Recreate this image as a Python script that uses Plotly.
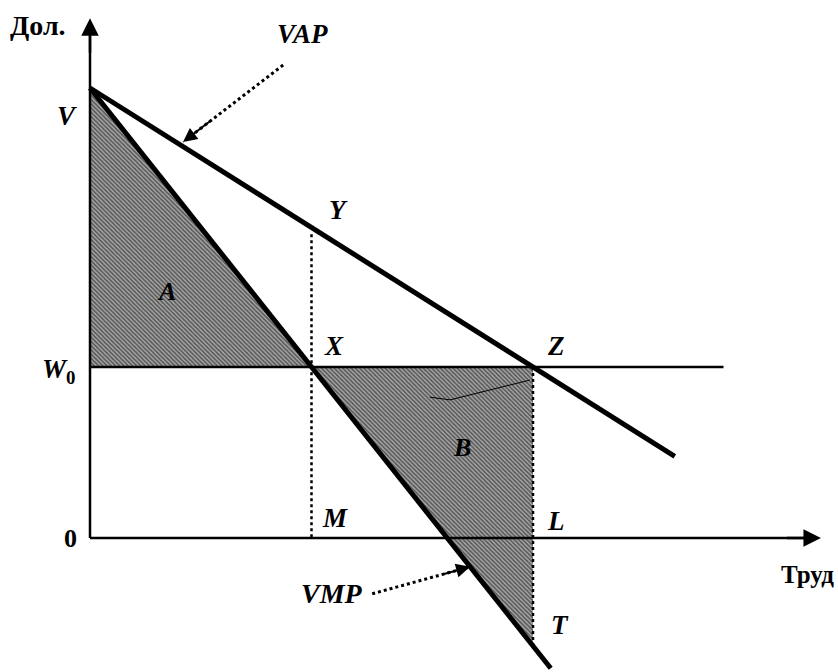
import plotly.graph_objects as go

# key values of the diagram (data units)
v_top = 10.0          # V, intercept of both curves
w0 = 3.8              # wage level W0
labour_m = 5.0        # M
labour_l = 10.0       # L
vmp_slope = 1.24
vap_slope = 0.62

vap_x = [0.0, 13.2]
vap_y = [v_top, v_top - vap_slope * 13.2]
vmp_x = [0.0, 10.4]
vmp_y = [v_top, v_top - vmp_slope * 10.4]
w0_x = [0.0, 14.3]
w0_y = [w0, w0]

y_y = v_top - vap_slope * labour_m
t_y = v_top - vmp_slope * labour_l

area_a_x = [0.0, labour_m, 0.0, 0.0]
area_a_y = [v_top, w0, w0, v_top]
area_b_x = [labour_m, labour_l, labour_l, labour_m]
area_b_y = [w0, w0, t_y, w0]

stroke_x = [7.67, 8.13, 9.93]
stroke_y = [3.13, 3.07, 3.51]

vap_ptr_x = [4.36, 2.10]
vap_ptr_y = [10.51, 8.80]
vmp_ptr_x = [6.37, 8.58]
vmp_ptr_y = [-1.24, -0.64]

x_axis_end = 16.5
y_axis_end = 11.55

fig = go.Figure()

hatch = dict(shape="\\", fgcolor="#000000", bgcolor="#a8a8a8", size=3, solidity=0.5)

# shaded areas A and B
for xs, ys in [(area_a_x, area_a_y), (area_b_x, area_b_y)]:
    fig.add_trace(go.Scatter(x=xs, y=ys, mode="lines", fill="toself",
                             fillcolor="#6e6e6e", fillpattern=hatch,
                             line=dict(width=0), hoverinfo="skip", showlegend=False))

fig.add_trace(go.Scatter(x=stroke_x, y=stroke_y, mode="lines",
                         line=dict(color="black", width=1), showlegend=False))

# dotted verticals
fig.add_trace(go.Scatter(x=[labour_m, labour_m], y=[y_y - 0.15, 0], mode="lines",
                         line=dict(color="black", width=2.5, dash="dot"), showlegend=False))
fig.add_trace(go.Scatter(x=[labour_l, labour_l], y=[w0, t_y], mode="lines",
                         line=dict(color="black", width=2.5, dash="dot"), showlegend=False))

# axes
fig.add_trace(go.Scatter(x=[0, x_axis_end - 0.3], y=[0, 0], mode="lines",
                         line=dict(color="black", width=2.5), showlegend=False))
fig.add_trace(go.Scatter(x=[0, 0], y=[0, y_axis_end - 0.3], mode="lines",
                         line=dict(color="black", width=2.5), showlegend=False))

# W0 line
fig.add_trace(go.Scatter(x=w0_x, y=w0_y, mode="lines",
                         line=dict(color="black", width=2.5), showlegend=False))

# VAP and VMP
fig.add_trace(go.Scatter(x=vap_x, y=vap_y, mode="lines",
                         line=dict(color="black", width=5), name="VAP", showlegend=False))
fig.add_trace(go.Scatter(x=vmp_x, y=vmp_y, mode="lines",
                         line=dict(color="black", width=5), name="VMP", showlegend=False))

# pointer lines
for xs, ys in [(vap_ptr_x, vap_ptr_y), (vmp_ptr_x, vmp_ptr_y)]:
    fig.add_trace(go.Scatter(x=xs, y=ys, mode="lines",
                             line=dict(color="black", width=3, dash="dot"), showlegend=False))

arrows = [
    (x_axis_end, 0, x_axis_end - 0.8, 0, 2.5),
    (0, y_axis_end, 0, y_axis_end - 0.8, 2.5),
    (vap_ptr_x[1], vap_ptr_y[1],
     vap_ptr_x[1] + 0.3 * (vap_ptr_x[0] - vap_ptr_x[1]),
     vap_ptr_y[1] + 0.3 * (vap_ptr_y[0] - vap_ptr_y[1]), 2),
    (vmp_ptr_x[1], vmp_ptr_y[1],
     vmp_ptr_x[1] + 0.3 * (vmp_ptr_x[0] - vmp_ptr_x[1]),
     vmp_ptr_y[1] + 0.3 * (vmp_ptr_y[0] - vmp_ptr_y[1]), 2),
]
for hx, hy, tx, ty, w in arrows:
    fig.add_annotation(x=hx, y=hy, ax=tx, ay=ty, xref="x", yref="y", axref="x", ayref="y",
                       text="", showarrow=True, arrowhead=2, arrowsize=1.4,
                       arrowwidth=w, arrowcolor="black")

serif = "Liberation Serif"
labels = [
    ("<b>Дол.</b>", -1.17, 11.4, 28),
    ("<b><i>VAP</i></b>", 4.79, 11.2, 27),
    ("<b><i>V</i></b>", -0.52, 9.38, 27),
    ("<b><i>Y</i></b>", 5.61, 7.29, 27),
    ("<b><i>A</i></b>", 1.72, 5.47, 26),
    ("<b><i>X</i></b>", 5.5, 4.27, 27),
    ("<b><i>Z</i></b>", 10.52, 4.27, 27),
    ("<b><i>W</i><sub>0</sub></b>", -0.72, 3.72, 27),
    ("<b>0</b>", -0.45, 0.0, 26),
    ("<b><i>M</i></b>", 5.53, 0.44, 27),
    ("<b><i>L</i></b>", 10.52, 0.38, 27),
    ("<b><i>B</i></b>", 8.4, 2.02, 26),
    ("<b>Труд</b>", 16.2, -0.82, 25),
    ("<b><i>T</i></b>", 10.61, -1.93, 27),
    ("<b><i>VMP</i></b>", 5.46, -1.24, 28),
]
for txt, lx, ly, size in labels:
    fig.add_annotation(x=lx, y=ly, xref="x", yref="y", text=txt, showarrow=False,
                       font=dict(family=serif, size=size, color="black"))

fig.update_layout(
    width=838, height=672,
    margin=dict(l=0, r=0, t=0, b=0),
    plot_bgcolor="white", paper_bgcolor="white",
    xaxis=dict(range=[-90 / 44.3, 748 / 44.3], visible=False, fixedrange=True),
    yaxis=dict(range=[-134 / 45, 538 / 45], visible=False, fixedrange=True),
    showlegend=False,
)

# page body has a default margin; drop it so the figure fills the window
fig.write_html("out.html", post_script="document.body.style.margin='0px';",
               config={"displayModeBar": False})
